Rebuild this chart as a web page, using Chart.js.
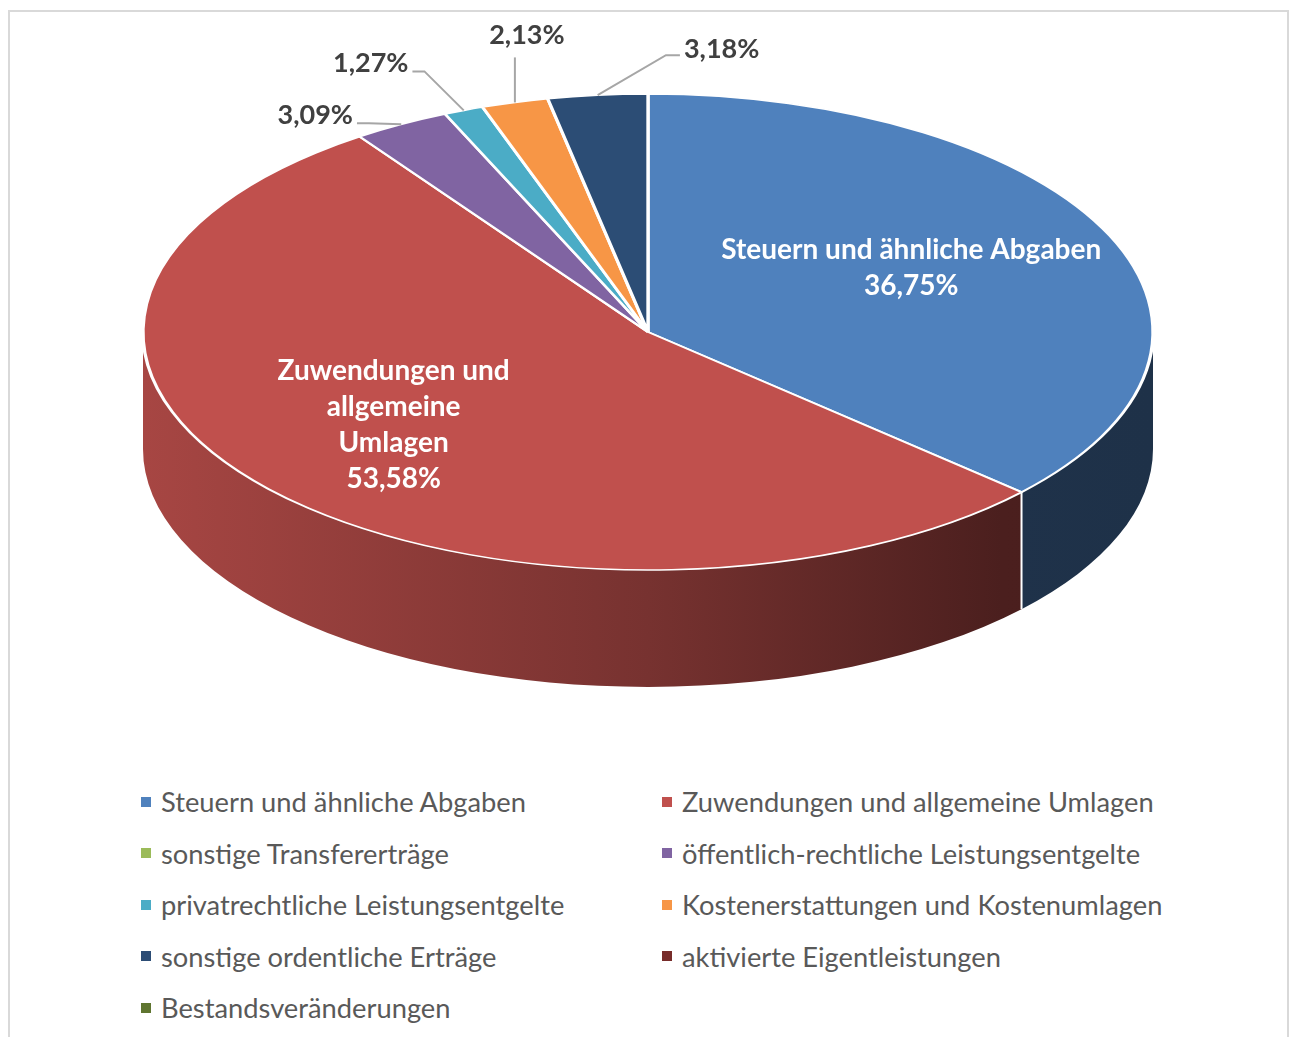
<!DOCTYPE html>
<html>
<head>
<meta charset="utf-8">
<script src="https://cdn.jsdelivr.net/npm/chart.js@4/dist/chart.umd.min.js"></script>
<style>
   body { margin: 0; background: #fff; font-family: Lato, "Open Sans", sans-serif; }
   #frame { position: absolute; left: 8px; top: 10px; width: 1281px; height: 1040px; border: 2px solid #d9d9d9; box-sizing: border-box; }
   #pie { position: absolute; left: 0; top: 0; }
   #legend { position: absolute; left: 141px; top: 776px; display: grid; grid-template-columns: 521px 520px; grid-auto-rows: 51.5px; font-size: 27.3px; color: #595959; }
   .item { display: flex; align-items: center; white-space: nowrap; }
   .box { width: 10px; height: 10px; margin-right: 10px; flex: none; }
</style>
</head>
<body>
<div id="frame"></div>
<canvas id="pie" width="1291" height="760"></canvas>
<div id="legend"></div>
<script>
// data
let labels = [
   "Steuern und ähnliche Abgaben",
   "Zuwendungen und allgemeine Umlagen",
   "sonstige Transfererträge",
   "öffentlich-rechtliche Leistungsentgelte",
   "privatrechtliche Leistungsentgelte",
   "Kostenerstattungen und Kostenumlagen",
   "sonstige ordentliche Erträge",
   "aktivierte Eigentleistungen",
   "Bestandsveränderungen",
];
let values = [36.75, 53.58, 0, 3.09, 1.27, 2.13, 3.18, 0, 0];
let colors = [
   "#4F81BD", // Steuern
   "#C0504D", // Zuwendungen
   "#9BBB59", // Transfer
   "#8064A2", // öffentlich-rechtlich
   "#4BACC6", // privatrechtlich
   "#F79646", // Kostenerstattungen
   "#2C4D75", // sonstige ordentliche
   "#772C2A", // aktivierte
   "#5F7530", // Bestand
];

// 3d look: ellipse of the top face and depth of the wall
const CX = 648, CY = 332, RX = 505, RY = 238, DEPTH = 117;
const shadeStops = [[0, 0.87], [0.5, 0.62], [0.85, 0.39], [1, 0.38]];

// labels inside the two big slices: fraction of radius, wrap width, y shift
const insideLabels = { 0: [0.57, 420, -9], 1: [0.67, 240, -12] };
// small slices: offset of the text centre from the rim point
const outsideLabels = { 3: [-86, -9], 4: [-93, -47], 5: [12, -67], 6: [124, -46] };

const fmt = (v) => v.toFixed(2).replace(".", ",") + "%";

function shade(hex, f) {
   let n = parseInt(hex.slice(1), 16);
   let r = Math.round(((n >> 16) & 255) * f);
   let g = Math.round(((n >> 8) & 255) * f);
   let b = Math.round((n & 255) * f);
   return `rgb(${r},${g},${b})`;
}

function rim(angle, f) {
   return [CX + RX * f * Math.cos(angle), CY + RY * f * Math.sin(angle)];
}

function wrap(ctx, text, maxW) {
   let words = text.split(" ");
   let lines = [];
   let cur = "";
   words.forEach((w) => {
      let t = cur ? cur + " " + w : w;
      if (ctx.measureText(t).width > maxW && cur) {
         lines.push(cur);
         cur = w;
      } else cur = t;
   });
   lines.push(cur);
   return lines;
}

const pie3d = {
   id: "pie3d",
   beforeDatasetsDraw(chart) {
      let ctx = chart.ctx;
      let arcs = chart.getDatasetMeta(0).data;
      // side wall, only the front half is visible
      arcs.forEach((arc, i) => {
         let a = Math.max(arc.startAngle, 0);
         let b = Math.min(arc.endAngle, Math.PI);
         if (b <= a) return;
         let g = ctx.createLinearGradient(CX - RX, 0, CX + RX, 0);
         shadeStops.forEach(([t, f]) => g.addColorStop(t, shade(colors[i], f)));
         ctx.beginPath();
         ctx.ellipse(CX, CY, RX, RY, 0, a, b);
         ctx.ellipse(CX, CY + DEPTH, RX, RY, 0, b, a, true);
         ctx.closePath();
         ctx.fillStyle = g;
         ctx.fill();
      });
      // seams on the wall
      ctx.strokeStyle = "#fff";
      ctx.lineWidth = 2;
      arcs.forEach((arc) => {
         let s = arc.startAngle;
         if (s > 0.01 && s < Math.PI - 0.01) {
            let [x, y] = rim(s, 1);
            ctx.beginPath();
            ctx.moveTo(x, y);
            ctx.lineTo(x, y + DEPTH);
            ctx.stroke();
         }
      });
      // squash the round pie into the ellipse
      let p = arcs[0];
      ctx.save();
      ctx.translate(CX, CY);
      ctx.scale(RX / p.outerRadius, RY / p.outerRadius);
      ctx.translate(-p.x, -p.y);
   },
   afterDatasetsDraw(chart) {
      let ctx = chart.ctx;
      ctx.restore();
      let arcs = chart.getDatasetMeta(0).data;
      ctx.textAlign = "center";
      ctx.textBaseline = "middle";
      arcs.forEach((arc, i) => {
         if (!values[i]) return;
         let mid = (arc.startAngle + arc.endAngle) / 2;
         if (insideLabels[i]) {
            let [f, maxW, dy] = insideLabels[i];
            let [x, y] = rim(mid, f);
            ctx.font = "bold 28px Lato";
            ctx.fillStyle = "#fff";
            let lines = wrap(ctx, labels[i], maxW);
            lines.push(fmt(values[i]));
            let top = y + dy - ((lines.length - 1) * 36) / 2;
            lines.forEach((l, k) => ctx.fillText(l, x, top + k * 36));
         } else if (outsideLabels[i]) {
            let [dx, dy] = outsideLabels[i];
            let [ax, ay] = rim(mid, 1);
            let tx = ax + dx, ty = ay + dy;
            ctx.font = "bold 27px Lato";
            let w = ctx.measureText(fmt(values[i])).width;
            // leader line
            ctx.strokeStyle = "#a6a6a6";
            ctx.lineWidth = 2;
            ctx.beginPath();
            if (dx > 30) {
               ctx.moveTo(tx - w / 2 - 4, ty + 6);
               ctx.lineTo(tx - w / 2 - 18, ty + 6);
               ctx.lineTo(ax, ay);
            } else if (dx < -30) {
               ctx.moveTo(tx + w / 2 + 4, ty + 8);
               ctx.lineTo(tx + w / 2 + 16, ty + 8);
               ctx.lineTo(ax, ay);
            } else {
               ctx.moveTo(ax, ty + 22);
               ctx.lineTo(ax, ay);
            }
            ctx.stroke();
            ctx.fillStyle = "#404040";
            ctx.fillText(fmt(values[i]), tx, ty);
         }
      });
   },
};

new Chart("pie", {
   type: "pie",
   data: {
      labels: labels,
      datasets: [
         {
            data: values,
            backgroundColor: colors,
            borderColor: "#fff",
            borderWidth: 2.5,
            clip: false,
         },
      ],
   },
   options: {
      responsive: false,
      animation: false,
      events: [],
      plugins: {
         legend: { display: false },
         tooltip: { enabled: false },
      },
   },
   plugins: [pie3d],
});

// legend in two columns
let legend = document.getElementById("legend");
labels.forEach((l, i) => {
   let d = document.createElement("div");
   d.className = "item";
   d.innerHTML = `<span class="box" style="background:${colors[i]}"></span>${l}`;
   legend.appendChild(d);
});
</script>
</body>
</html>
